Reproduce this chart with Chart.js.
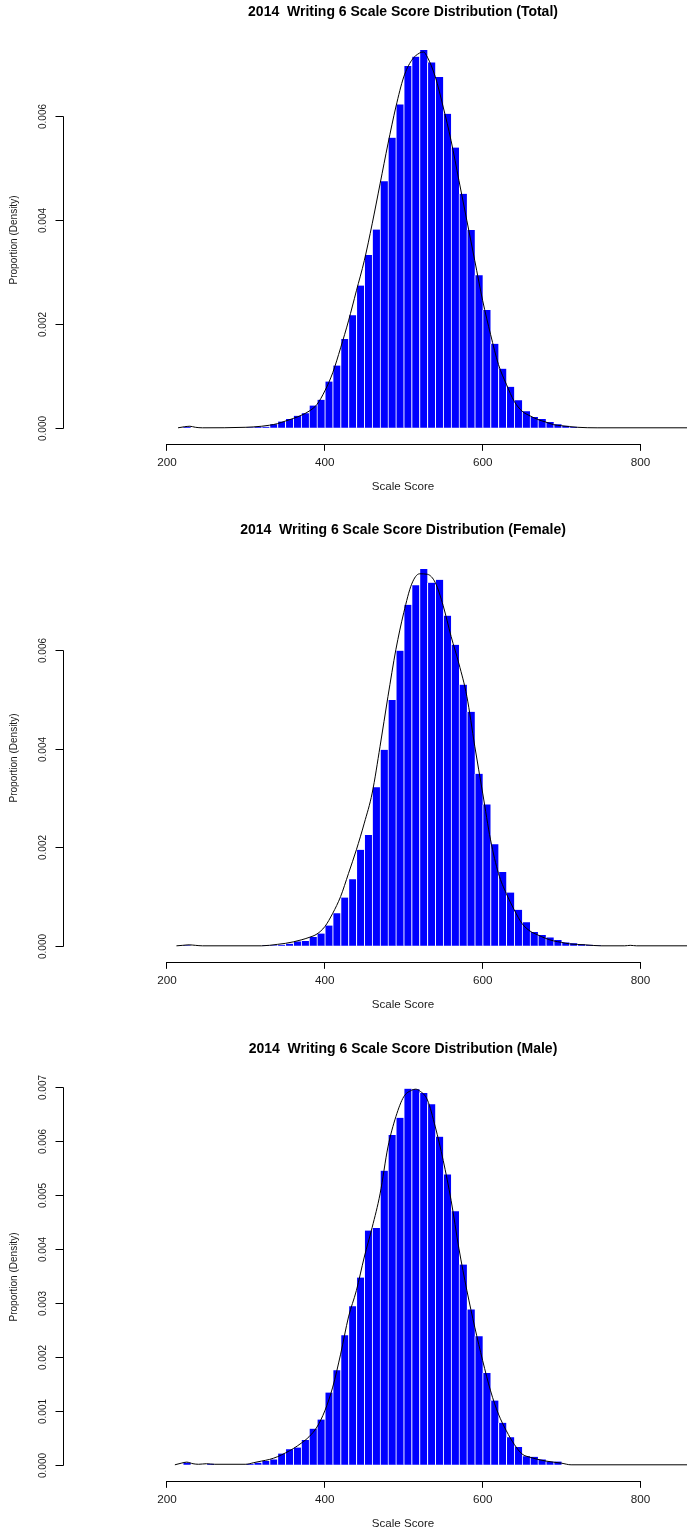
<!DOCTYPE html>
<html>
<head>
<meta charset="utf-8">
<title>2014 Writing 6 Scale Score Distribution</title>
<script src="https://cdn.jsdelivr.net/npm/chart.js@4.4.1/dist/chart.umd.min.js"></script>
<style>
  html,body{margin:0;padding:0;background:#fff;}
  body{width:687px;height:1533px;position:relative;overflow:hidden;}
  .panel{position:absolute;left:0;width:687px;height:496px;}
</style>
</head>
<body>
<div class="panel" style="top:0"><canvas id="c-total" width="687" height="496"></canvas></div>
<div class="panel" style="top:518px"><canvas id="c-female" width="687" height="496"></canvas></div>
<div class="panel" style="top:1037px"><canvas id="c-male" width="687" height="496"></canvas></div>
<script>
// ===================== DATA =====================
// histogram bins: left edge of each 10-point bin
const binWidth = 10;
const binStarts = [220,230,240,250,260,270,280,290,300,310,
                   320,330,340,350,360,370,380,390,400,410,
                   420,430,440,450,460,470,480,490,500,510,
                   520,530,540,550,560,570,580,590,600,610,
                   620,630,640,650,660,670,680,690,700,710,
                   720,730,740];

const totalHist = [0.00002,0,0,0,0,0,0,0,0.00001,0.00002,
                   0.00002,0.00007,0.00012,0.00017,0.00023,0.00028,0.00043,0.00054,0.00089,0.0012,
                   0.00171,0.00217,0.00274,0.00333,0.00382,0.00475,0.00559,0.00623,0.00697,0.00715,
                   0.00728,0.00704,0.00676,0.00605,0.0054,0.00451,0.00381,0.00294,0.00227,0.00162,
                   0.00114,0.00079,0.00053,0.00032,0.00021,0.00017,0.00011,0.00007,0.00004,0.00002,
                   0,0,0];
const femaleHist = [0.00001,0,0,0,0,0,0,0,0,0,
                    0.00001,0.00001,0.00002,0.00004,0.00009,0.0001,0.00018,0.00025,0.00041,0.00066,
                    0.00098,0.00135,0.00195,0.00225,0.00322,0.00398,0.00499,0.00599,0.00692,0.00732,
                    0.00765,0.00737,0.00743,0.0067,0.00611,0.0053,0.00475,0.00349,0.00287,0.00206,
                    0.0015,0.00108,0.00073,0.00048,0.00028,0.00022,0.00017,0.00012,0.00007,0.00005,
                    0.00003,0.00002,0.00001];
const maleHist = [0.00004,0,0,0.00002,0,0,0,0,0.00002,0.00004,
                  0.00007,0.0001,0.00021,0.00029,0.00032,0.00046,0.00067,0.00084,0.00134,0.00175,
                  0.0024,0.00294,0.00347,0.00434,0.00439,0.00545,0.00611,0.00643,0.00697,0.00696,
                  0.00689,0.00668,0.00608,0.00538,0.0047,0.00371,0.00288,0.00238,0.0017,0.00119,
                  0.00078,0.00051,0.00033,0.00016,0.00015,0.0001,0.00006,0.00006,0,0,
                  0,0,0];

// kernel density curves (score, density)
const totalDensX = [214,222,229,236,245,300,320,
                    330,340,350,360,370,380,390,400,410,420,430,440,450,460,470,480,490,500,510,520,
                    525,
                    530,540,550,560,570,580,590,600,610,620,630,640,650,660,670,680,690,700,
                    720,745,862];
const totalDensY = [0,0.00002,0.00003,0.00001,0,0.00001,0.00003,
                    0.00005,0.00008,0.00013,0.00018,0.00024,0.00032,0.00045,0.00071,0.00106,0.00154,0.00206,0.00264,0.00322,0.00393,0.0047,0.00547,0.00618,0.00676,0.00708,0.00722,
                    0.00724,
                    0.00714,0.00676,0.00618,0.00553,0.00476,0.00399,0.00322,0.00245,0.0018,0.00122,0.00084,0.00051,0.00032,0.00023,0.00016,0.00011,0.00006,0.00004,
                    0.00001,0,0];

const femaleDensX = [212,220,228,236,245,320,
                     340,350,360,370,380,390,400,410,420,430,
                     440,450,460,470,480,490,500,510,520,530,
                     540,550,560,570,580,590,600,610,620,630,
                     640,650,660,670,680,690,700,710,
                     730,750,780,787,795,862];
const femaleDensY = [0,0.00001,0.00002,0.00001,0,0,
                     0.00003,0.00005,0.00008,0.00012,0.00017,0.00024,0.00039,0.00066,0.001,0.00147,
                     0.00195,0.00249,0.0031,0.00405,0.00506,0.00601,0.00676,0.00734,0.00755,0.00754,
                     0.00737,0.0069,0.00628,0.00572,0.00506,0.00405,0.0031,0.00215,0.00147,0.00106,
                     0.00073,0.00045,0.0003,0.00022,0.00015,0.0001,0.00007,0.00004,
                     0.00002,0,0,0.00001,0,0];

const maleDensX = [210,218,225,233,240,250,260,
                   300,310,320,330,340,350,360,370,380,390,
                   400,410,420,430,440,450,460,470,480,490,
                   500,510,515,520,530,540,550,560,570,580,
                   590,600,610,620,630,640,650,660,
                   680,700,712,862];
const maleDensY = [0,0.00003,0.00005,0.00002,0.00001,0.00002,0.00001,
                   0.00001,0.00004,0.00007,0.0001,0.00015,0.00022,0.0003,0.0004,0.00052,0.0007,
                   0.001,0.00144,0.00205,0.00274,0.00323,0.00385,0.0044,0.00502,0.00589,0.00645,
                   0.00682,0.00694,0.00696,0.00693,0.00676,0.00626,0.00564,0.0049,0.004,0.00323,
                   0.00255,0.00193,0.00137,0.00094,0.00063,0.00038,0.0002,0.00014,
                   0.00007,0.00003,0,0];

// axis ticks
const xTicks = [200,400,600,800];
const yTicksSix = [0,0.002,0.004,0.006];
const yTicksSeven = [0,0.001,0.002,0.003,0.004,0.005,0.006,0.007];

// ===================== LAYOUT =====================
const FONT = '"Liberation Sans", Arial, Helvetica, sans-serif';
const X_MIN = 139.2, X_MAX = 858.9;   // plot region edges (px 119 .. 687)
const AXIS_X = 63.5;                  // R-style y axis sits left of the plot

// R-style axes: x line only 200..800, y axis detached with rotated labels
const rAxes = {
  id: 'rAxes',
  afterDraw(chart, args, opts){
    const {ctx, chartArea, scales:{x, y}} = chart;
    const yt = opts.ticks;
    ctx.save();
    ctx.strokeStyle = '#000';
    ctx.lineWidth = 1;

    const xb = Math.round(chartArea.bottom) + 0.5;
    ctx.beginPath();
    ctx.moveTo(x.getPixelForValue(xTicks[0]), xb);
    ctx.lineTo(x.getPixelForValue(xTicks[xTicks.length-1]), xb);
    ctx.stroke();

    ctx.beginPath();
    ctx.moveTo(AXIS_X, Math.round(y.getPixelForValue(yt[0])) + 0.5);
    ctx.lineTo(AXIS_X, Math.round(y.getPixelForValue(yt[yt.length-1])) + 0.5);
    ctx.stroke();

    ctx.fillStyle = '#1a1a1a';
    ctx.font = '10px ' + FONT;
    ctx.textAlign = 'center';
    ctx.textBaseline = 'middle';
    yt.forEach(v=>{
      const py = Math.round(y.getPixelForValue(v)) + 0.5;
      ctx.beginPath(); ctx.moveTo(AXIS_X - 8, py); ctx.lineTo(AXIS_X, py); ctx.stroke();
      ctx.save(); ctx.translate(43, py); ctx.rotate(-Math.PI/2);
      ctx.fillText(v.toFixed(3), 0, 0);
      ctx.restore();
    });

    ctx.save(); ctx.translate(14, 240); ctx.rotate(-Math.PI/2);
    ctx.fillText('Proportion (Density)', 0, 0);
    ctx.restore();
    ctx.restore();
  }
};

function histChart(id, title, hist, densX, densY, yRange, yTicks){
  const bars = binStarts.map((b,i)=>({x:b + binWidth/2, y:hist[i]}));
  const dens = densX.map((v,i)=>({x:v, y:densY[i]}));
  return new Chart(document.getElementById(id), {
    type:'bar',
    data:{datasets:[
      {type:'line', data:dens, borderColor:'#000', borderWidth:1, pointRadius:0,
       cubicInterpolationMode:'monotone', fill:false, order:0},
      {type:'bar', data:bars, backgroundColor:'#0000ff', borderColor:'#ffffff',
       borderWidth:{left:1,right:0,top:0,bottom:0}, borderSkipped:false,
       barPercentage:1, categoryPercentage:1, order:1}
    ]},
    options:{
      responsive:false, animation:false, events:[],
      layout:{padding:{left:119,right:0,top:0,bottom:0}},
      plugins:{
        legend:{display:false}, tooltip:{enabled:false},
        title:{display:true, text:title, color:'#000',
               font:{family:FONT, size:14, weight:'bold'}, padding:{top:3.9, bottom:9.3}},
        rAxes:{ticks:yTicks}
      },
      scales:{
        x:{type:'linear', min:X_MIN, max:X_MAX, offset:false,
           afterBuildTicks:s=>{ s.ticks = xTicks.map(v=>({value:v})); },
           grid:{display:true, offset:false, drawOnChartArea:false, drawTicks:true, tickLength:7, color:'#000', lineWidth:1},
           border:{display:false},
           ticks:{color:'#1a1a1a', font:{family:FONT, size:11.7}, padding:5, maxRotation:0, autoSkip:false},
           title:{display:true, text:'Scale Score', color:'#1a1a1a',
                  font:{family:FONT, size:11.6}, padding:{top:5.4, bottom:1.8}}},
        y:{display:false, min:yRange[0], max:yRange[1]}
      }
    },
    plugins:[rAxes]
  });
}

histChart('c-total',  '2014  Writing 6 Scale Score Distribution (Total)',  totalHist,  totalDensX,  totalDensY,  [-0.000309, 0.007664], yTicksSix);
histChart('c-female', '2014  Writing 6 Scale Score Distribution (Female)', femaleHist, femaleDensX, femaleDensY, [-0.000325, 0.008074], yTicksSix);
histChart('c-male',   '2014  Writing 6 Scale Score Distribution (Male)',   maleHist,   maleDensX,   maleDensY,   [-0.000297, 0.007371], yTicksSeven);
</script>
</body>
</html>
